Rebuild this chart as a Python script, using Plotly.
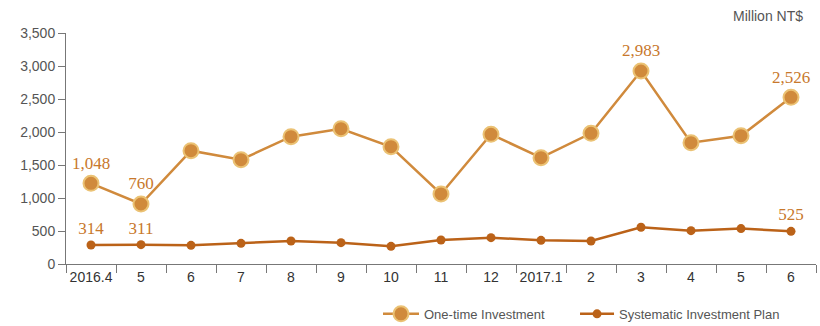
import plotly.graph_objects as go

months = ["2016.4", "2016.5", "2016.6", "2016.7", "2016.8", "2016.9", "2016.10",
          "2016.11", "2016.12", "2017.1", "2017.2", "2017.3", "2017.4", "2017.5", "2017.6"]
tick_labels = ["2016.4", "5", "6", "7", "8", "9", "10", "11", "12", "2017.1",
               "2", "3", "4", "5", "6"]
one_time = [1223, 909, 1717, 1580, 1929, 2050, 1777, 1061, 1965, 1611, 1980, 2924, 1838, 1944, 2525]
systematic = [288, 293, 283, 313, 348, 323, 268, 364, 399, 359, 348, 556, 505, 536, 495]
one_time_labels = ["1,048", "760", "", "", "", "", "", "", "", "", "", "2,983", "", "", "2,526"]
systematic_labels = ["314", "311", "", "", "", "", "", "", "", "", "", "", "", "", "525"]

fig = go.Figure()
fig.add_trace(go.Scatter(
    x=months, y=one_time, name="One-time Investment", mode="lines+markers+text",
    text=one_time_labels, textposition="top center", legend="legend",
    textfont=dict(family="Liberation Serif", size=17, color="#c8782c"),
    line=dict(color="#d08a3c", width=2.5),
    marker=dict(size=15, color="#d08a3c", line=dict(color="#ebc274", width=2)),
))
fig.add_trace(go.Scatter(
    x=months, y=systematic, name="Systematic Investment Plan", mode="lines+markers+text",
    text=systematic_labels, textposition="top center", legend="legend2",
    textfont=dict(family="Liberation Serif", size=17, color="#c8782c"),
    line=dict(color="#bb6218", width=2.5),
    marker=dict(size=9, color="#bb6218"),
))

fig.update_layout(
    width=820, height=326,
    margin=dict(l=66, r=4, t=33, b=62, autoexpand=False),
    plot_bgcolor="white", paper_bgcolor="white",
    font=dict(family="Liberation Sans", size=14, color="#555555"),
    showlegend=True,
    legend=dict(orientation="h", x=0.416, xanchor="left", y=-0.216, yanchor="middle",
                font=dict(size=13, color="#555555"), itemwidth=36),
    legend2=dict(orientation="h", x=0.6787, xanchor="left", y=-0.216, yanchor="middle",
                 font=dict(size=13, color="#555555"), itemwidth=34),
    xaxis=dict(type="category", tickmode="array", tickvals=months, ticktext=tick_labels,
               tickson="boundaries", ticks="outside", ticklen=8, tickcolor="#777777",
               showline=True, linecolor="#777777", linewidth=1, showgrid=False,
               tickangle=0, automargin=False,
               tickfont=dict(color="#333333", size=14), range=[-0.5, 14.5]),
    yaxis=dict(range=[0, 3500], tickvals=[0, 500, 1000, 1500, 2000, 2500, 3000, 3500],
               tickformat=",d", ticks="outside", ticklen=7, tickcolor="#777777",
               showline=True, linecolor="#777777", linewidth=1, showgrid=False,
               zeroline=False, automargin=False, tickfont=dict(color="#555555", size=14)),
    annotations=[dict(text="Million NT$", xref="paper", yref="paper", x=0.985, y=1,
                      xanchor="right", yanchor="bottom", yshift=7, showarrow=False,
                      font=dict(size=14, color="#555555"))],
)

fig.write_html("out.html")
